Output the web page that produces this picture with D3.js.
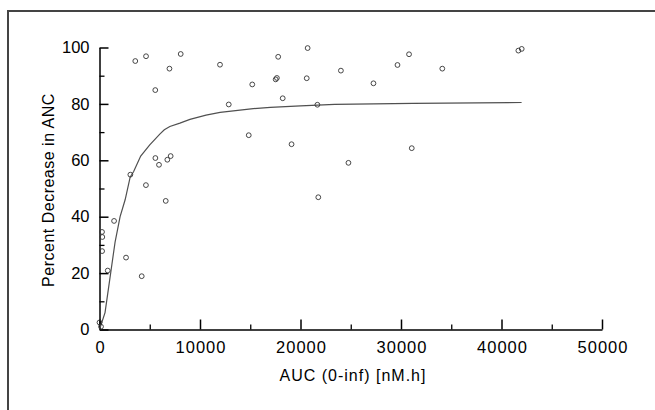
<!DOCTYPE html>
<html>
<head>
<meta charset="utf-8">
<script src="https://cdn.jsdelivr.net/npm/d3@7"></script>
<style>
  html, body { margin: 0; padding: 0; background: #fff; }
  svg { display: block; }
  text { font-family: "Liberation Sans", Arial, Helvetica, sans-serif; fill: #000; }
</style>
</head>
<body>
<svg id="chart" width="655" height="410"></svg>
<script>
// ---- data ----
const obsAUC = [0, 150, 250, 280, 260, 820, 1450, 2640, 3070, 3560, 4200, 4620, 4630, 5550, 5560, 5920, 6590, 6750, 7080, 6960, 8080,
  11990, 12860, 14850, 15200, 17780, 17530, 17650, 18230, 19110, 20710, 20620, 21680, 21770, 24770, 24020, 27260, 29650, 30800, 31070, 34110, 41680, 42010];
const obsANC = [2.5, 1.0, 34.6, 32.8, 27.8, 20.9, 38.5, 25.5, 54.9, 95.2, 18.9, 51.2, 96.9, 84.9, 60.8, 58.4, 45.6, 60.2, 61.5, 92.5, 97.7,
  93.9, 79.8, 68.9, 86.9, 96.7, 88.7, 89.2, 82.0, 65.7, 99.8, 89.1, 79.7, 46.9, 59.1, 91.8, 87.3, 93.8, 97.6, 64.3, 92.5, 98.9, 99.5];

const fitAUC = [0, 550, 1050, 1550, 2050, 2550, 3050, 3400, 4100, 5000, 6000, 6450, 7000, 8000, 9000, 10600, 12000, 15300, 17000, 20000, 23400, 31200, 42000];
const fitANC = [0, 6, 18.5, 31, 40, 46, 54, 56, 61.5, 65.5, 69.3, 70.8, 72, 73.2, 74.5, 76, 77, 78.3, 78.8, 79.3, 79.8, 80.2, 80.5];

const xMajorTicks = [0, 10000, 20000, 30000, 40000, 50000];
const xMinorTicks = [5000, 15000, 25000, 35000, 45000];
const yMajorTicks = [0, 20, 40, 60, 80, 100];
const yMinorTicks = [10, 30, 50, 70, 90];
const xTitle = "AUC (0-inf) [nM.h]";
const yTitle = "Percent Decrease in ANC";

// ---- layout ----
const svg = d3.select("#chart");
const plotLeft = 99.5, plotRight = 602, plotTop = 47.5, plotBottom = 329.5;

const x = d3.scaleLinear().domain([0, 50000]).range([plotLeft, plotRight]);
const y = d3.scaleLinear().domain([0, 100]).range([plotBottom, plotTop]);

// outer frame (open to the right/bottom edges)
svg.append("path")
  .attr("d", "M8,420 L8,11 L665,11")
  .attr("fill", "none")
  .attr("stroke", "#444")
  .attr("stroke-width", 2);

// minor ticks
svg.append("g")
  .attr("transform", `translate(0,${plotBottom})`)
  .call(d3.axisBottom(x).tickValues(xMinorTicks).tickSize(-5).tickSizeOuter(0).tickFormat(""))
  .call(g => g.select(".domain").remove())
  .call(g => g.selectAll("line").attr("stroke", "#000").attr("stroke-width", 1.3));
svg.append("g")
  .attr("transform", `translate(${plotLeft},0)`)
  .call(d3.axisLeft(y).tickValues(yMinorTicks).tickSize(-5).tickSizeOuter(0).tickFormat(""))
  .call(g => g.select(".domain").remove())
  .call(g => g.selectAll("line").attr("stroke", "#000").attr("stroke-width", 1.3));

// major axes
const xAxis = svg.append("g")
  .attr("transform", `translate(0,${plotBottom})`)
  .call(d3.axisBottom(x).tickValues(xMajorTicks).tickSize(-10).tickSizeOuter(0).tickPadding(12).tickFormat(d3.format("d")));
const yAxis = svg.append("g")
  .attr("transform", `translate(${plotLeft},0)`)
  .call(d3.axisLeft(y).tickValues(yMajorTicks).tickSize(-9).tickSizeOuter(0).tickPadding(10).tickFormat(d3.format("d")));

[xAxis, yAxis].forEach(g => {
  g.select(".domain").attr("stroke", "#000").attr("stroke-width", 1.5);
  g.selectAll(".tick line").attr("stroke", "#000").attr("stroke-width", 1.5);
  g.selectAll(".tick text")
    .attr("fill", "#000")
    .style("font-family", "'Liberation Sans', Arial, sans-serif")
    .style("font-size", "16.5px");
});
xAxis.selectAll(".tick text").style("letter-spacing", "1px").attr("dx", "0.5");

// fitted curve
const line = d3.line().x((d, i) => x(fitAUC[i])).y((d, i) => y(fitANC[i]));
svg.append("path")
  .datum(fitANC)
  .attr("d", line)
  .attr("fill", "none")
  .attr("stroke", "#505050")
  .attr("stroke-width", 1.2);

// observed points
svg.append("g")
  .selectAll("circle")
  .data(obsAUC)
  .join("circle")
  .attr("cx", d => x(d))
  .attr("cy", (d, i) => y(obsANC[i]))
  .attr("r", 2.4)
  .attr("fill", "none")
  .attr("stroke", "#333")
  .attr("stroke-width", 0.9);

// axis titles
svg.append("text")
  .attr("x", 353)
  .attr("y", 381)
  .attr("text-anchor", "middle")
  .attr("fill", "#000")
  .style("font-size", "16px")
  .style("letter-spacing", "1px")
  .text(xTitle);
svg.append("text")
  .attr("transform", `translate(54,190) rotate(-90)`)
  .attr("text-anchor", "middle")
  .attr("fill", "#000")
  .style("font-size", "16px")
  .style("letter-spacing", "0.5px")
  .text(yTitle);
</script>
</body>
</html>
